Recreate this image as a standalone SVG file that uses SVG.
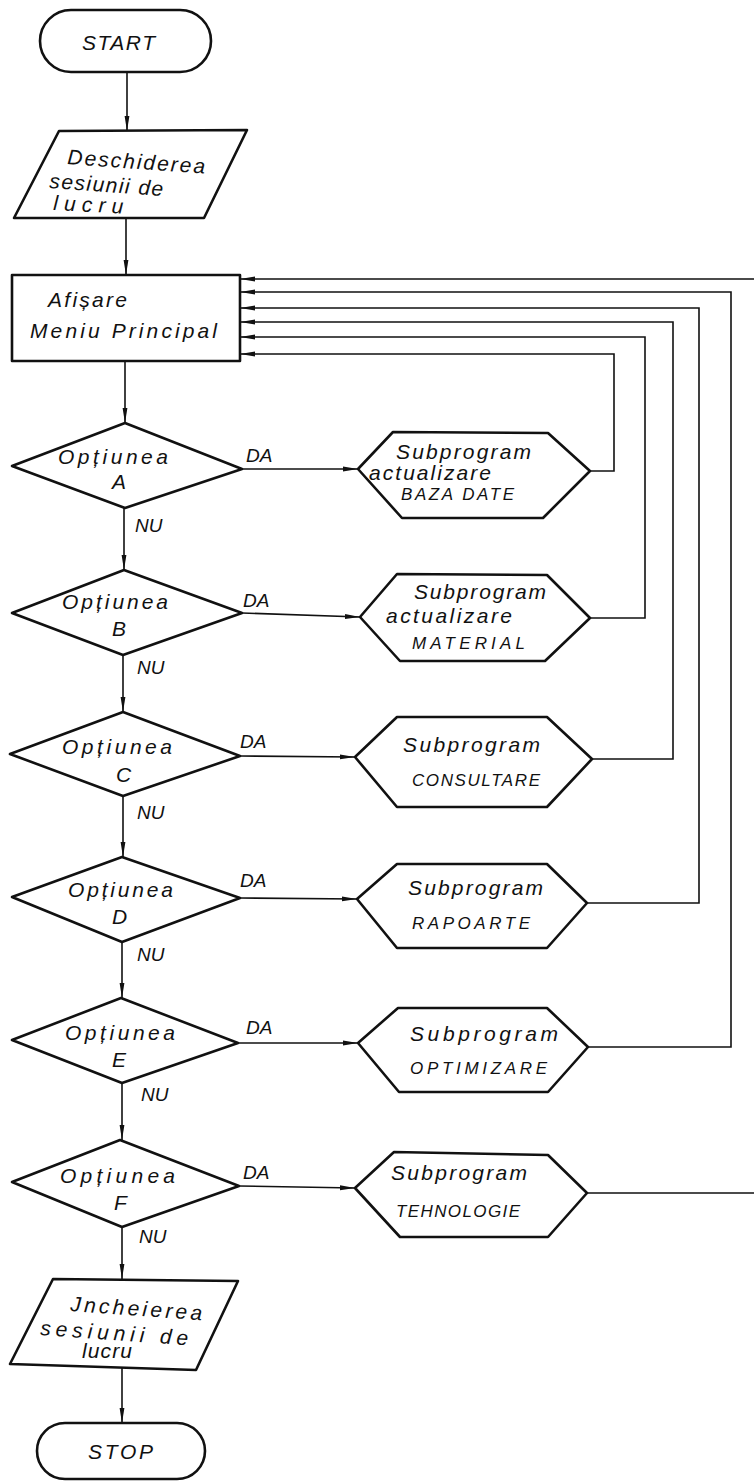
<svg xmlns="http://www.w3.org/2000/svg" width="754" height="1481" viewBox="0 0 754 1481">
  <defs>
    <style>
      .shape { fill: #fff; stroke: #111; stroke-width: 2.6; stroke-linejoin: round; }
      .wire { fill: none; stroke: #111; stroke-width: 1.6; }
      .txt { font-family: "Liberation Sans", "DejaVu Sans", sans-serif; font-style: italic; font-size: 21px; fill: #111; }
      .caps { font-size: 17px; }
      .lbl { font-family: "Liberation Sans", "DejaVu Sans", sans-serif; font-style: italic; font-size: 19px; fill: #111; }
    </style>
    <marker id="ah" markerUnits="userSpaceOnUse" markerWidth="16" markerHeight="8" refX="15" refY="4" orient="auto">
      <path d="M0,1.6 L15,4 L0,6.4 Z" fill="#111"/>
    </marker>
  </defs>

  <rect width="754" height="1481" fill="#fff"/>

  <!-- connectors -->
  <g id="connectors">
    <!-- main flow -->
    <path class="wire" d="M127,72 V131" marker-end="url(#ah)"/>
    <path class="wire" d="M126,218 V275" marker-end="url(#ah)"/>
    <path class="wire" d="M125,361 V423" marker-end="url(#ah)"/>
    <path class="wire" d="M124,508 V570" marker-end="url(#ah)"/>
    <path class="wire" d="M123,655 V712" marker-end="url(#ah)"/>
    <path class="wire" d="M123,796 V857" marker-end="url(#ah)"/>
    <path class="wire" d="M122,942 V998" marker-end="url(#ah)"/>
    <path class="wire" d="M122,1083 V1140" marker-end="url(#ah)"/>
    <path class="wire" d="M122,1227 V1279" marker-end="url(#ah)"/>
    <path class="wire" d="M122,1367 V1423" marker-end="url(#ah)"/>
    <!-- DA branches -->
    <path class="wire" d="M242,469 L358,469" marker-end="url(#ah)"/>
    <path class="wire" d="M242,613 L360,617" marker-end="url(#ah)"/>
    <path class="wire" d="M240,756 L355,757" marker-end="url(#ah)"/>
    <path class="wire" d="M240,898 L357,899" marker-end="url(#ah)"/>
    <path class="wire" d="M238,1043 L358,1043" marker-end="url(#ah)"/>
    <path class="wire" d="M239,1186 L355,1188" marker-end="url(#ah)"/>
    <!-- returns to the main menu -->
    <path class="wire" d="M590,471 H614 V354 H240" marker-end="url(#ah)"/>
    <path class="wire" d="M590,618 H645 V337 H240" marker-end="url(#ah)"/>
    <path class="wire" d="M592,759 H673 V322 H240" marker-end="url(#ah)"/>
    <path class="wire" d="M587,903 H699 V308 H240" marker-end="url(#ah)"/>
    <path class="wire" d="M588,1047 H731 V292 H240" marker-end="url(#ah)"/>
    <path class="wire" d="M587,1193 H770 V279 H240" marker-end="url(#ah)"/>
    <!-- branch labels -->
    <text class="lbl" x="246" y="462">DA</text>
    <text class="lbl" x="243" y="607">DA</text>
    <text class="lbl" x="240" y="748">DA</text>
    <text class="lbl" x="240" y="887">DA</text>
    <text class="lbl" x="246" y="1034">DA</text>
    <text class="lbl" x="243" y="1179">DA</text>
    <text class="lbl" x="135" y="532">NU</text>
    <text class="lbl" x="137" y="674">NU</text>
    <text class="lbl" x="137" y="819">NU</text>
    <text class="lbl" x="137" y="961">NU</text>
    <text class="lbl" x="141" y="1101">NU</text>
    <text class="lbl" x="139" y="1243">NU</text>
  </g>

  <g id="start">
    <rect class="shape" x="40" y="10" width="171" height="62" rx="31"/>
    <text class="txt" x="82" y="50" font-size="23" textLength="73" lengthAdjust="spacing">START</text>
  </g>

  <g id="open-session">
    <polygon class="shape" points="59,131 247,130 204,218 14,218"/>
    <text class="txt" x="67" y="164" textLength="138" lengthAdjust="spacing" transform="rotate(4 67 164)">Deschiderea</text>
    <text class="txt" x="49" y="188" textLength="114" lengthAdjust="spacing" transform="rotate(4 49 188)">sesiunii de</text>
    <text class="txt" x="53" y="210" textLength="70" lengthAdjust="spacing" transform="rotate(3 53 210)">lucru</text>
  </g>

  <g id="main-menu">
    <rect class="shape" x="12" y="275" width="228" height="86"/>
    <text class="txt" x="48" y="307" textLength="79" lengthAdjust="spacing">Afișare</text>
    <text class="txt" x="30" y="338" textLength="187" lengthAdjust="spacing">Meniu Principal</text>
  </g>

  <g id="option-a">
    <polygon class="shape" points="125,423 242,469 125,508 12,466"/>
    <text class="txt" x="58" y="464" textLength="110" lengthAdjust="spacing">Opțiunea</text>
    <text class="txt" x="112" y="489">A</text>
  </g>
  <g id="sub-a">
    <polygon class="shape" points="358,469 393,432 548,433 590,471 543,518 402,518"/>
    <text class="txt" x="396" y="459" textLength="135" lengthAdjust="spacing">Subprogram</text>
    <text class="txt" x="369" y="480" textLength="122" lengthAdjust="spacing">actualizare</text>
    <text class="txt caps" x="401" y="500" textLength="113" lengthAdjust="spacing">BAZA DATE</text>
  </g>

  <g id="option-b">
    <polygon class="shape" points="124,570 242,613 123,655 12,613"/>
    <text class="txt" x="62" y="609" textLength="106" lengthAdjust="spacing">Opțiunea</text>
    <text class="txt" x="112" y="636">B</text>
  </g>
  <g id="sub-b">
    <polygon class="shape" points="360,617 397,574 547,575 590,618 545,661 400,661"/>
    <text class="txt" x="414" y="599" textLength="132" lengthAdjust="spacing">Subprogram</text>
    <text class="txt" x="386" y="623" textLength="126" lengthAdjust="spacing">actualizare</text>
    <text class="txt caps" x="412" y="649" textLength="113" lengthAdjust="spacing">MATERIAL</text>
  </g>

  <g id="option-c">
    <polygon class="shape" points="123,712 240,756 123,796 10,754"/>
    <text class="txt" x="62" y="754" textLength="110" lengthAdjust="spacing">Opțiunea</text>
    <text class="txt" x="116" y="782">C</text>
  </g>
  <g id="sub-c">
    <polygon class="shape" points="355,757 397,717 547,717 592,759 547,807 397,807"/>
    <text class="txt" x="403" y="752" textLength="137" lengthAdjust="spacing">Subprogram</text>
    <text class="txt caps" x="412" y="786" textLength="128" lengthAdjust="spacing">CONSULTARE</text>
  </g>

  <g id="option-d">
    <polygon class="shape" points="122,857 240,898 122,942 12,897"/>
    <text class="txt" x="68" y="897" textLength="105" lengthAdjust="spacing">Opțiunea</text>
    <text class="txt" x="112" y="924">D</text>
  </g>
  <g id="sub-d">
    <polygon class="shape" points="357,899 397,864 547,864 587,903 547,948 397,948"/>
    <text class="txt" x="408" y="895" textLength="135" lengthAdjust="spacing">Subprogram</text>
    <text class="txt caps" x="412" y="929" textLength="118" lengthAdjust="spacing">RAPOARTE</text>
  </g>

  <g id="option-e">
    <polygon class="shape" points="121,998 238,1043 122,1083 12,1040"/>
    <text class="txt" x="65" y="1040" textLength="110" lengthAdjust="spacing">Opțiunea</text>
    <text class="txt" x="112" y="1067">E</text>
  </g>
  <g id="sub-e">
    <polygon class="shape" points="358,1043 398,1008 547,1008 588,1047 548,1092 399,1092"/>
    <text class="txt" x="410" y="1041" textLength="148" lengthAdjust="spacing">Subprogram</text>
    <text class="txt caps" x="410" y="1074" textLength="137" lengthAdjust="spacing">OPTIMIZARE</text>
  </g>

  <g id="option-f">
    <polygon class="shape" points="120,1140 239,1186 122,1227 12,1182"/>
    <text class="txt" x="60" y="1183" textLength="115" lengthAdjust="spacing">Opțiunea</text>
    <text class="txt" x="114" y="1210">F</text>
  </g>
  <g id="sub-f">
    <polygon class="shape" points="355,1188 394,1152 548,1155 587,1193 548,1237 400,1237"/>
    <text class="txt" x="391" y="1180" textLength="136" lengthAdjust="spacing">Subprogram</text>
    <text class="txt caps" x="396" y="1217" textLength="124" lengthAdjust="spacing">TEHNOLOGIE</text>
  </g>

  <g id="close-session">
    <polygon class="shape" points="53,1279 238,1281 196,1370 10,1364"/>
    <text class="txt" x="70" y="1311" textLength="132" lengthAdjust="spacing" transform="rotate(4 70 1311)">Jncheierea</text>
    <text class="txt" x="40" y="1335" textLength="148" lengthAdjust="spacing" transform="rotate(4 40 1335)">sesiunii de</text>
    <text class="txt" x="82" y="1358" textLength="50" lengthAdjust="spacing">lucru</text>
  </g>

  <g id="stop">
    <rect class="shape" x="37" y="1423" width="168" height="56" rx="28"/>
    <text class="txt" x="88" y="1459" font-size="20" textLength="65" lengthAdjust="spacing">STOP</text>
  </g>
</svg>
